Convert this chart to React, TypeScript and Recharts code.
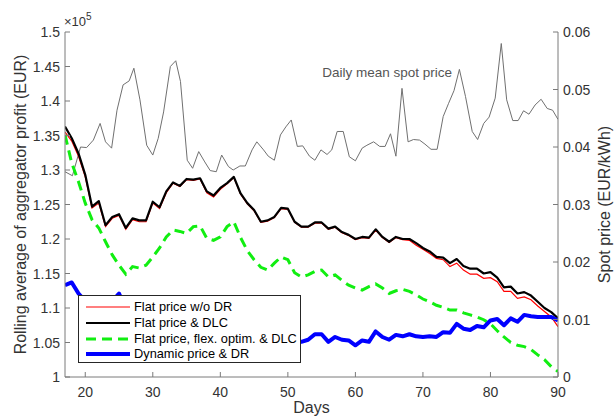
import React from 'react';
import { LineChart, Line, XAxis, YAxis, Legend, ReferenceDot, Label } from 'recharts';

const days = [17, 18, 19, 20, 21, 22, 23, 24, 25, 26, 27, 28, 29, 30, 31, 32, 33, 34, 35, 36, 37, 38, 39, 40, 41, 42, 43, 44, 45, 46, 47, 48, 49, 50, 51, 52, 53, 54, 55, 56, 57, 58, 59, 60, 61, 62, 63, 64, 65, 66, 67, 68, 69, 70, 71, 72, 73, 74, 75, 76, 77, 78, 79, 80, 81, 82, 83, 84, 85, 86, 87, 88, 89, 90];

const flatNoDR = [1.355, 1.342, 1.320, 1.290, 1.245, 1.252, 1.218, 1.230, 1.234, 1.214, 1.228, 1.225, 1.225, 1.252, 1.244, 1.267, 1.281, 1.276, 1.286, 1.285, 1.287, 1.267, 1.261, 1.272, 1.280, 1.289, 1.265, 1.251, 1.241, 1.224, 1.226, 1.231, 1.244, 1.243, 1.224, 1.217, 1.217, 1.223, 1.223, 1.214, 1.217, 1.209, 1.205, 1.199, 1.202, 1.201, 1.213, 1.202, 1.195, 1.202, 1.199, 1.198, 1.191, 1.185, 1.179, 1.172, 1.170, 1.160, 1.165, 1.155, 1.149, 1.149, 1.143, 1.144, 1.138, 1.124, 1.124, 1.114, 1.116, 1.112, 1.103, 1.095, 1.087, 1.073];

const flatDLC = [1.363, 1.346, 1.324, 1.293, 1.247, 1.255, 1.220, 1.232, 1.236, 1.216, 1.230, 1.227, 1.227, 1.254, 1.246, 1.269, 1.282, 1.277, 1.287, 1.286, 1.288, 1.269, 1.263, 1.274, 1.281, 1.290, 1.266, 1.252, 1.242, 1.225, 1.227, 1.232, 1.245, 1.244, 1.225, 1.218, 1.218, 1.224, 1.224, 1.215, 1.218, 1.210, 1.206, 1.200, 1.203, 1.202, 1.214, 1.203, 1.196, 1.203, 1.200, 1.200, 1.194, 1.187, 1.182, 1.174, 1.173, 1.165, 1.171, 1.161, 1.157, 1.157, 1.150, 1.152, 1.144, 1.130, 1.131, 1.121, 1.123, 1.118, 1.109, 1.100, 1.094, 1.085];

const flatFlex = [1.351, 1.310, 1.283, 1.252, 1.228, 1.216, 1.196, 1.177, 1.162, 1.149, 1.160, 1.158, 1.162, 1.174, 1.187, 1.203, 1.213, 1.211, 1.208, 1.218, 1.219, 1.201, 1.198, 1.203, 1.218, 1.225, 1.202, 1.183, 1.170, 1.159, 1.155, 1.165, 1.174, 1.170, 1.151, 1.145, 1.148, 1.153, 1.155, 1.145, 1.148, 1.140, 1.133, 1.129, 1.126, 1.131, 1.135, 1.129, 1.121, 1.125, 1.127, 1.124, 1.119, 1.113, 1.109, 1.104, 1.101, 1.097, 1.097, 1.093, 1.090, 1.087, 1.083, 1.077, 1.067, 1.058, 1.050, 1.046, 1.044, 1.040, 1.032, 1.025, 1.015, 1.008];

const dynamicDR = [1.133, 1.137, 1.121, 1.110, 1.105, 1.100, 1.105, 1.110, 1.121, 1.100, 1.095, 1.090, 1.090, 1.085, 1.080, 1.080, 1.075, 1.075, 1.070, 1.070, 1.068, 1.065, 1.065, 1.060, 1.060, 1.058, 1.055, 1.055, 1.052, 1.050, 1.050, 1.048, 1.047, 1.048, 1.050, 1.051, 1.054, 1.062, 1.062, 1.051, 1.058, 1.054, 1.053, 1.046, 1.053, 1.051, 1.066, 1.058, 1.054, 1.061, 1.059, 1.062, 1.059, 1.058, 1.059, 1.058, 1.065, 1.064, 1.077, 1.070, 1.068, 1.074, 1.072, 1.082, 1.084, 1.075, 1.085, 1.080, 1.090, 1.088, 1.087, 1.087, 1.087, 1.082];

const spotDays = [17.0, 18.1, 19.3, 20.2, 21.2, 22.2, 23.0, 23.9, 24.7, 25.6, 26.5, 27.2, 28.1, 29.1, 30.0, 30.8, 31.6, 32.6, 33.4, 34.1, 35.1, 35.9, 36.8, 37.7, 38.5, 39.4, 40.2, 41.2, 41.9, 42.9, 43.7, 44.7, 45.4, 46.4, 47.1, 48.0, 48.9, 49.7, 50.5, 51.4, 52.2, 53.2, 54.0, 54.9, 55.8, 56.5, 57.3, 58.2, 59.1, 60.0, 61.0, 61.7, 62.7, 63.6, 64.4, 65.2, 66.0, 66.9, 67.8, 68.6, 69.5, 70.3, 71.2, 72.1, 73.0, 73.8, 74.6, 75.4, 76.3, 77.3, 78.1, 79.0, 79.8, 80.7, 81.6, 82.4, 83.3, 84.1, 84.9, 85.7, 86.6, 87.5, 88.4, 89.2, 90.0];

const spotPrice = [0.0357, 0.0350, 0.0400, 0.0399, 0.0412, 0.0441, 0.0409, 0.0398, 0.0464, 0.0508, 0.0515, 0.0537, 0.0482, 0.0403, 0.0386, 0.0415, 0.0461, 0.0540, 0.0550, 0.0514, 0.0377, 0.0363, 0.0392, 0.0374, 0.0359, 0.0357, 0.0386, 0.0366, 0.0360, 0.0367, 0.0367, 0.0395, 0.0409, 0.0395, 0.0384, 0.0377, 0.0421, 0.0435, 0.0447, 0.0401, 0.0402, 0.0384, 0.0377, 0.0395, 0.0387, 0.0395, 0.0427, 0.0427, 0.0383, 0.0376, 0.0398, 0.0403, 0.0409, 0.0401, 0.0401, 0.0423, 0.0384, 0.0502, 0.0409, 0.0413, 0.0412, 0.0405, 0.0396, 0.0396, 0.0453, 0.0476, 0.0498, 0.0535, 0.0488, 0.0427, 0.0413, 0.0441, 0.0452, 0.0485, 0.0580, 0.0482, 0.0446, 0.0446, 0.0463, 0.0457, 0.0473, 0.0483, 0.0467, 0.0464, 0.0448];

const xTicks = [20, 30, 40, 50, 60, 70, 80, 90];
const leftTicks = [1, 1.05, 1.1, 1.15, 1.2, 1.25, 1.3, 1.35, 1.4, 1.45, 1.5];
const leftTickLabels = ['1', '1.05', '1.1', '1.15', '1.2', '1.25', '1.3', '1.35', '1.4', '1.45', '1.5'];
const rightTicks = [0, 0.01, 0.02, 0.03, 0.04, 0.05, 0.06];
const rightTickLabels = ['0', '0.01', '0.02', '0.03', '0.04', '0.05', '0.06'];

const legendLabels = ['Flat price w/o DR', 'Flat price & DLC', 'Flat price, flex. optim. & DLC', 'Dynamic price & DR'];
const spotLabel = 'Daily mean spot price';
const leftAxisTitle = 'Rolling average of aggregator profit (EUR)';
const rightAxisTitle = 'Spot price (EUR/kWh)';
const xAxisTitle = 'Days';

const profitRows = days.map((day, i) => ({
  day,
  flatNoDR: flatNoDR[i],
  flatDLC: flatDLC[i],
  flatFlex: flatFlex[i],
  dynamicDR: dynamicDR[i],
}));
const spotRows = spotDays.map((day, i) => ({ day, spot: spotPrice[i] }));

const FONT = '"Liberation Sans", Arial, Helvetica, sans-serif';
const AXIS = '#7a7a7a';
const TEXT = '#333333';

const seriesStyles = [
  { stroke: '#ff0000', width: 1.2, dash: undefined as string | undefined },
  { stroke: '#000000', width: 2.2, dash: undefined as string | undefined },
  { stroke: '#11ee11', width: 3, dash: '10 6' },
  { stroke: '#0000ff', width: 4, dash: undefined as string | undefined },
];

const findIdx = (arr: number[], v: number) => arr.findIndex((t) => Math.abs(t - v) < 1e-6);

const LeftTick = (props: any) => {
  const { x, y, payload } = props;
  const ax = x + 5;
  const i = findIdx(leftTicks, payload.value);
  return (
    <g>
      <line x1={ax} x2={ax + 5} y1={y} y2={y} stroke={AXIS} strokeWidth={1} />
      <text x={x} y={y} dy="0.36em" textAnchor="end" fontSize={14} fill={TEXT} fontFamily={FONT}>
        {leftTickLabels[i]}
      </text>
    </g>
  );
};

const RightTick = (props: any) => {
  const { x, y, payload } = props;
  const ax = x - 5;
  const i = findIdx(rightTicks, payload.value);
  return (
    <g>
      <line x1={ax} x2={ax - 5} y1={y} y2={y} stroke={AXIS} strokeWidth={1} />
      <text x={x} y={y} dy="0.36em" textAnchor="start" fontSize={14} fill={TEXT} fontFamily={FONT}>
        {rightTickLabels[i]}
      </text>
    </g>
  );
};

const BottomTick = (props: any) => {
  const { x, y, payload } = props;
  const ay = y - 10;
  return (
    <g>
      <line x1={x} x2={x} y1={ay} y2={ay - 5} stroke={AXIS} strokeWidth={1} />
      <text x={x} y={y} dy="0.72em" textAnchor="middle" fontSize={14} fill={TEXT} fontFamily={FONT}>
        {String(payload.value)}
      </text>
    </g>
  );
};

const LeftTitle = (props: any) => {
  const vb = props.viewBox;
  const cx = vb.x + 20;
  const cy = vb.y + vb.height / 2;
  return (
    <text x={cx} y={cy} transform={`rotate(-90 ${cx} ${cy})`} textAnchor="middle" dy="0.36em" fontSize={16} fill={TEXT} fontFamily={FONT}>
      {leftAxisTitle}
    </text>
  );
};

const Exponent = (props: any) => {
  const vb = props.viewBox;
  const x = vb.x + vb.width - 1;
  const y = vb.y - 6;
  return (
    <text x={x} y={y} fontSize={13} fill={TEXT} fontFamily={FONT}>
      ×10<tspan dy={-6} fontSize={10}>5</tspan>
    </text>
  );
};

const RightTitle = (props: any) => {
  const vb = props.viewBox;
  const cx = vb.x + 46;
  const cy = vb.y + vb.height / 2;
  return (
    <text x={cx} y={cy} transform={`rotate(-90 ${cx} ${cy})`} textAnchor="middle" dy="0.36em" fontSize={16} fill={TEXT} fontFamily={FONT}>
      {rightAxisTitle}
    </text>
  );
};

const BottomTitle = (props: any) => {
  const vb = props.viewBox;
  const cx = vb.x + vb.width / 2;
  const cy = vb.y + 30;
  return (
    <text x={cx} y={cy} textAnchor="middle" dy="0.36em" fontSize={16} fill={TEXT} fontFamily={FONT}>
      {xAxisTitle}
    </text>
  );
};

const SpotText = (props: any) => {
  const vb = props.viewBox;
  return (
    <text x={vb.x} y={vb.y} dy="0.36em" textAnchor="start" fontSize={13.5} fill="#555555" fontFamily={FONT}>
      {spotLabel}
    </text>
  );
};

const rowCenters = [11, 27, 42.5, 57.5];

const LegendBox = () => (
  <div
    style={{
      width: 223,
      height: 68,
      boxSizing: 'border-box',
      border: '1px solid #262626',
      background: '#ffffff',
      position: 'relative',
      fontFamily: FONT,
      fontSize: 12.8,
      color: '#000',
    }}
  >
    {legendLabels.map((label, i) => {
      const s = seriesStyles[i];
      return (
        <div
          key={label}
          style={{ position: 'absolute', left: 0, top: rowCenters[i] - 8, height: 16, display: 'flex', alignItems: 'center', whiteSpace: 'nowrap' }}
        >
          <svg width={55} height={16} style={{ display: 'block' }}>
            <line x1={7} x2={51} y1={8} y2={8} stroke={s.stroke} strokeWidth={s.width} strokeDasharray={s.dash} />
          </svg>
          <span style={{ lineHeight: '16px' }}>{label}</span>
        </div>
      );
    })}
  </div>
);

export default function App() {
  return (
    <div style={{ position: 'absolute', left: 0, top: 0, width: 615, height: 418, background: '#ffffff' }}>
      <LineChart width={615} height={418} margin={{ top: 32, right: 0, bottom: 0, left: 0 }}>
        <XAxis
          dataKey="day"
          type="number"
          domain={[17, 90]}
          ticks={xTicks}
          interval={0}
          allowDataOverflow
          height={41}
          tickSize={0}
          tickMargin={10}
          tickLine={false}
          tick={<BottomTick />}
          axisLine={{ stroke: AXIS, strokeWidth: 1 }}
        >
          <Label content={<BottomTitle />} />
        </XAxis>
        <YAxis
          yAxisId="left"
          type="number"
          domain={[1, 1.5]}
          ticks={leftTicks}
          interval={0}
          allowDataOverflow
          width={65}
          tickSize={0}
          tickMargin={5}
          tickLine={false}
          tick={<LeftTick />}
          axisLine={{ stroke: AXIS, strokeWidth: 1 }}
        >
          <Label content={<LeftTitle />} />
          <Label content={<Exponent />} />
        </YAxis>
        <YAxis
          yAxisId="right"
          orientation="right"
          type="number"
          domain={[0, 0.06]}
          ticks={rightTicks}
          interval={0}
          allowDataOverflow
          width={57}
          tickSize={0}
          tickMargin={5}
          tickLine={false}
          tick={<RightTick />}
          axisLine={{ stroke: AXIS, strokeWidth: 1 }}
        >
          <Label content={<RightTitle />} />
        </YAxis>
        <Line
          yAxisId="right"
          data={spotRows}
          dataKey="spot"
          stroke="#707070"
          strokeWidth={1}
          dot={false}
          activeDot={false}
          isAnimationActive={false}
          legendType="none"
        />
        <Line yAxisId="left" data={profitRows} dataKey="flatNoDR" stroke={seriesStyles[0].stroke} strokeWidth={seriesStyles[0].width} dot={false} activeDot={false} isAnimationActive={false} />
        <Line yAxisId="left" data={profitRows} dataKey="flatDLC" stroke={seriesStyles[1].stroke} strokeWidth={seriesStyles[1].width} dot={false} activeDot={false} isAnimationActive={false} strokeLinejoin="round" />
        <Line yAxisId="left" data={profitRows} dataKey="flatFlex" stroke={seriesStyles[2].stroke} strokeWidth={seriesStyles[2].width} strokeDasharray={seriesStyles[2].dash} dot={false} activeDot={false} isAnimationActive={false} />
        <Line yAxisId="left" data={profitRows} dataKey="dynamicDR" stroke={seriesStyles[3].stroke} strokeWidth={seriesStyles[3].width} dot={false} activeDot={false} isAnimationActive={false} strokeLinejoin="round" />
        <ReferenceDot
          yAxisId="right"
          x={55.1}
          y={0.053}
          r={0}
          fill="none"
          stroke="none"
          label={<Label content={<SpotText />} />}
        />
        <Legend
          layout="vertical"
          align="center"
          verticalAlign="middle"
          content={<LegendBox />}
          wrapperStyle={{ left: 78, top: 295, width: 223, height: 68 }}
        />
      </LineChart>
    </div>
  );
}
